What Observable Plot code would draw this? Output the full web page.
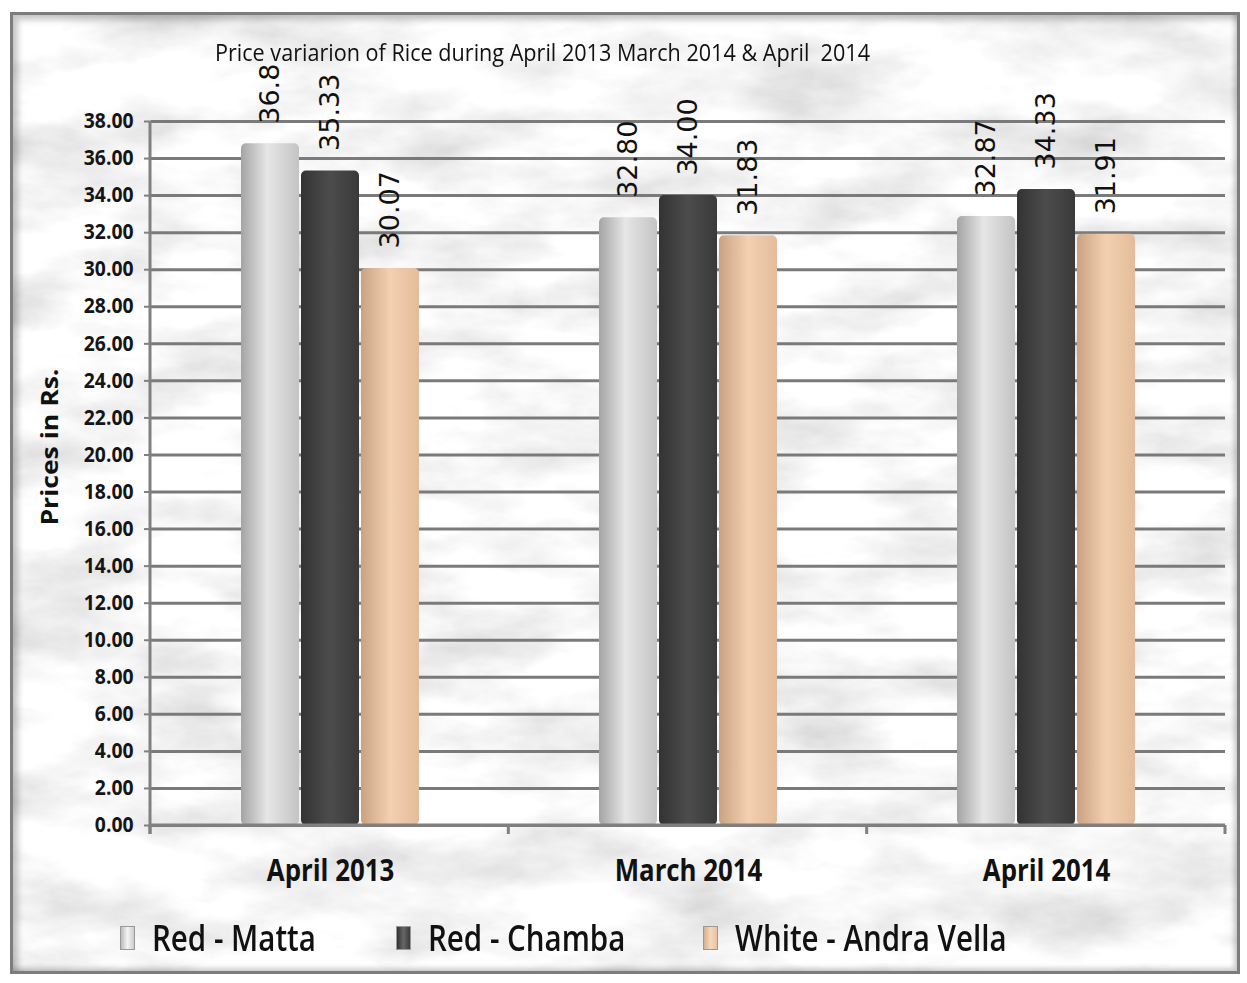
<!DOCTYPE html>
<html>
<head>
<meta charset="utf-8">
<script src="https://cdn.jsdelivr.net/npm/d3@7"></script>
<script src="https://cdn.jsdelivr.net/npm/@observablehq/plot@0.6"></script>
<style>
  html, body { margin: 0; padding: 0; background: #ffffff; }
  #wrap { position: relative; width: 1247px; height: 983px; overflow: hidden; }
  #bg { position: absolute; left: 0; top: 0; }
  #frame { position: absolute; left: 10px; top: 12px; width: 1224px; height: 956px;
           border: 3px solid #7d7d7d; box-shadow: inset 5px 5px 6px rgba(0,0,0,0.22), inset -3px -3px 5px rgba(0,0,0,0.2); }
  #chart { position: absolute; left: 0; top: 0; }
  #title { position: absolute; left: 215px; top: 36px; font-family: "Open Sans", sans-serif;
           font-size: 23px; color: #111; white-space: pre; transform-origin: 0 0; }
  #legend { position: absolute; left: 120px; top: 913px; display: flex; font-family: "Open Sans", sans-serif;
            font-size: 36px; font-weight: 600; color: #111; }
  .item { display: flex; align-items: center; white-space: nowrap; }
  .sw { width: 13px; height: 22px; margin-right: 17px; border: 1px solid #999; }
  .txt { display: inline-block; overflow: visible; }
  .txt span { display: inline-block; transform-origin: 0 50%; }
</style>
</head>
<body>
<div id="wrap">
  <svg id="bg" width="1247" height="983">
    <defs>
      <filter id="marble" x="0" y="0" width="100%" height="100%">
        <feTurbulence type="fractalNoise" baseFrequency="0.008 0.018" numOctaves="5" seed="11" result="n"/>
        <feColorMatrix type="matrix" in="n"
          values="0.6 0 0 0 0.63
                  0.6 0 0 0 0.63
                  0.6 0 0 0 0.64
                  0 0 0 0 1"/>
      </filter>
      <linearGradient id="gMatta" x1="0" x2="1" y1="0" y2="0">
        <stop offset="0" stop-color="#a4a4a4"/>
        <stop offset="0.45" stop-color="#e6e6e6"/>
        <stop offset="1" stop-color="#c4c4c4"/>
      </linearGradient>
      <linearGradient id="gChamba" x1="0" x2="1" y1="0" y2="0">
        <stop offset="0" stop-color="#333333"/>
        <stop offset="0.5" stop-color="#4c4c4c"/>
        <stop offset="1" stop-color="#3a3a3a"/>
      </linearGradient>
      <linearGradient id="gAndra" x1="0" x2="1" y1="0" y2="0">
        <stop offset="0" stop-color="#c9a283"/>
        <stop offset="0.5" stop-color="#f3d0b1"/>
        <stop offset="1" stop-color="#e4bc9a"/>
      </linearGradient>
    </defs>
    <rect x="10" y="12" width="1230" height="962" filter="url(#marble)"/>
  </svg>
  <div id="frame"></div>
  <div id="title"></div>
  <div id="chart"></div>
  <div id="legend"></div>
</div>
<script>
const titleText = "Price variarion of Rice during April 2013 March 2014 & April  2014";
const yAxisLabel = "Prices in Rs.";
const categories = ["April 2013", "March 2014", "April 2014"];
const series = ["Red - Matta", "Red - Chamba", "White - Andra Vella"];
const redMatta = [36.80, 32.80, 32.87];
const redChamba = [35.33, 34.00, 34.33];
const whiteAndraVella = [30.07, 31.83, 31.91];
const redMattaLabels = ["36.8", "32.80", "32.87"];
const redChambaLabels = ["35.33", "34.00", "34.33"];
const whiteAndraVellaLabels = ["30.07", "31.83", "31.91"];
const yTicks = [0, 2, 4, 6, 8, 10, 12, 14, 16, 18, 20, 22, 24, 26, 28, 30, 32, 34, 36, 38];
const seriesFills = ["url(#gMatta)", "url(#gChamba)", "url(#gAndra)"];
const legendSwatches = ["linear-gradient(90deg,#bbb,#f4f4f4,#ccc)", "linear-gradient(90deg,#333,#666,#3a3a3a)", "linear-gradient(90deg,#d8b090,#f6d8bc,#e8c2a2)"];

// title, condensed to the reference width
const titleEl = document.getElementById("title");
titleEl.textContent = titleText;
titleEl.style.transform = `scaleX(${655 / titleEl.getBoundingClientRect().width})`;

const valuesBySeries = [redMatta, redChamba, whiteAndraVella];
const labelsBySeries = [redMattaLabels, redChambaLabels, whiteAndraVellaLabels];
const rows = [];
categories.forEach((c, i) => {
  series.forEach((s, j) => {
    rows.push({category: c, series: s, value: valuesBySeries[j][i], label: labelsBySeries[j][i]});
  });
});

const W = 1247, H = 900, mt = 121, mb = 75, ml = 150, mr = 22;

const plot = Plot.plot({
  width: W, height: H,
  marginTop: mt, marginBottom: mb, marginLeft: ml, marginRight: mr,
  style: {background: "transparent", fontFamily: "'Open Sans', sans-serif", overflow: "visible"},
  fx: {domain: categories, padding: 0, label: null},
  x: {domain: series, paddingInner: 0.034, paddingOuter: 1.5, axis: null},
  y: {domain: [0, 38]},
  color: {domain: series, range: seriesFills},
  marks: [
    Plot.gridY(yTicks, {stroke: "#7a7a7a", strokeOpacity: 1, strokeWidth: 3}),
    Plot.axisY(yTicks, {
      tickFormat: d => d.toFixed(2), fontSize: 21, fontWeight: "bold", fill: "#151515",
      tickSize: 7, tickPadding: 11, stroke: "#808080", strokeWidth: 2, label: null
    }),
    Plot.axisFx({anchor: "bottom", tickSize: 0, tickPadding: 34, fontSize: 30, fontWeight: "bold", fill: "#111", label: null}),
    Plot.barY(rows, {fx: "category", x: "series", y: "value", fill: "series", rx: 5}),
    Plot.text(rows, {fx: "category", x: "series", y: "value", text: "label", rotate: -90, textAnchor: "start",
      dy: -20, fontSize: 27, fontFamily: "DejaVu Sans", fill: "#111"})
  ]
});
document.getElementById("chart").appendChild(plot);

const svg = d3.select(plot);
function condense(sel, factor) {
  sel.each(function() {
    const len = this.getComputedTextLength();
    this.setAttribute("textLength", len * factor);
    this.setAttribute("lengthAdjust", "spacingAndGlyphs");
  });
}
// condense the category labels
condense(svg.selectAll("text").filter(function() { return categories.includes(this.textContent); }), 0.86);
// condense the y tick labels slightly
condense(svg.selectAll("text").filter(function() { return /^\d+\.00$/.test(this.textContent) && !this.closest("[font-family='DejaVu Sans']"); }), 0.92);

// axis lines and category boundary ticks
const ys = plot.scale("y");
const yScale = d3.scaleLinear(ys.domain, ys.range);
const g = svg.append("g").attr("stroke", "#808080").attr("stroke-width", 3);
g.append("line").attr("x1", ml).attr("x2", ml).attr("y1", yScale(38)).attr("y2", yScale(0) + 9);
g.append("line").attr("x1", ml).attr("x2", W - mr).attr("y1", yScale(0)).attr("y2", yScale(0));
const step = (W - ml - mr) / categories.length;
for (let i = 0; i <= categories.length; i++) {
  g.append("line").attr("x1", ml + i * step).attr("x2", ml + i * step).attr("y1", yScale(0)).attr("y2", yScale(0) + 9);
}
// y axis title
const yl = svg.append("text").attr("transform", `translate(50,${yScale(20.4)}) rotate(-90)`)
  .attr("text-anchor", "middle").attr("dy", "0.35em").attr("font-size", 24).attr("font-weight", "bold")
  .attr("fill", "#111").text(yAxisLabel);
yl.attr("textLength", 157).attr("lengthAdjust", "spacingAndGlyphs");

// legend
const legend = d3.select("#legend");
const legendGap = [80, 78, 0];
series.forEach((s, j) => {
  const it = legend.append("div").attr("class", "item").style("margin-right", legendGap[j] + "px");
  it.append("div").attr("class", "sw").style("background", legendSwatches[j]);
  const box = it.append("div").attr("class", "txt");
  const sp = box.append("span").text(s);
  const w = sp.node().getBoundingClientRect().width;
  const f = 0.82;
  sp.style("transform", `scaleX(${f})`);
  box.style("width", (w * f) + "px");
});
</script>
</body>
</html>
